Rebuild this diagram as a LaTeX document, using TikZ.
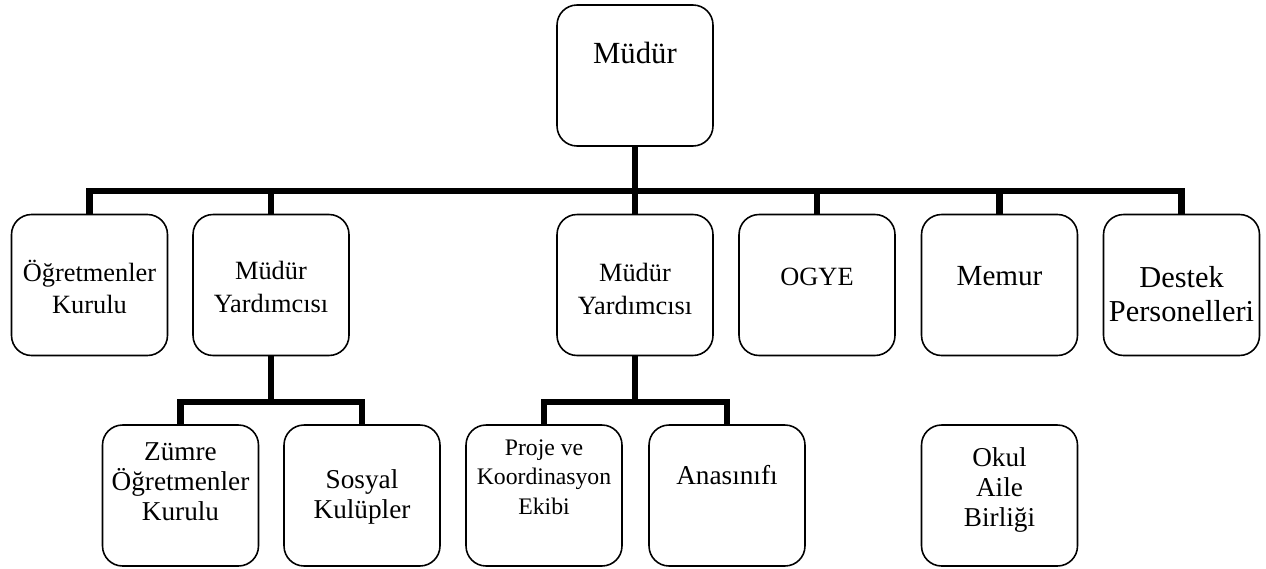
\documentclass[tikz,border=0pt]{standalone}
\usepackage{fontspec}
\setmainfont{Liberation Serif}
\begin{document}
\begin{tikzpicture}[x=0.02cm, y=-0.02cm,
    box/.style={draw, rounded corners=0.4cm, line width=0.9pt, minimum width=3.12cm, minimum height=2.82cm, inner sep=0pt},
    txt/.style={align=center, inner sep=0pt, font=\fontsize{15}{18.5}\selectfont},
    small/.style={font=\fontsize{15.5}{17}\selectfont},
    bar/.style={line width=3.6pt}]
      \useasboundingbox (0,0) rectangle (1266,568);

      \node[box] (mudur)  at (635,75.5) {};
      \node[box] (ogr)    at (89.5,285) {};
      \node[box] (my1)    at (271,285) {};
      \node[box] (my2)    at (635,285) {};
      \node[box] (ogye)   at (817,285) {};
      \node[box] (memur)  at (999.5,285) {};
      \node[box] (destek) at (1181.5,285) {};

      \node[box] (zumre)  at (180.5,495.5) {};
      \node[box] (sosyal) at (362,495.5) {};
      \node[box] (proje)  at (544,495.5) {};
      \node[box] (ana)    at (727,495.5) {};
      \node[box] (okul)   at (999.5,495.5) {};

      \node[txt, font=\fontsize{17.5}{21}\selectfont] (mudur-t) at (635,53) {Müdür};
      \node[txt] (ogr-t)    at (89.5,287) {Öğretmenler\\Kurulu};
      \node[txt] (my1-t)    at (271,287) {Müdür\\Yardımcısı};
      \node[txt] (my2-t)    at (635,289) {Müdür\\Yardımcısı};
      \node[txt] (ogye-t)   at (817,277) {OGYE};
      \node[txt, font=\fontsize{16.6}{19}\selectfont] (memur-t) at (999.5,276) {Memur};
      \node[txt, font=\fontsize{17.3}{19.4}\selectfont] (destek-t) at (1181.5,294) {Destek\\Personelleri};

      \node[txt, small] (zumre-t)  at (180.5,482) {Zümre\\Öğretmenler\\Kurulu};
      \node[txt, small] (sosyal-t) at (362,497) {Sosyal\\Kulüpler};
      \node[txt, font=\fontsize{13.5}{16.8}\selectfont] (proje-t) at (544,477) {Proje ve\\Koordinasyon\\Ekibi};
      \node[txt, small] (ana-t)    at (727,475) {Anasınıfı};
      \node[txt, small] (okul-t)   at (999.5,490) {Okul\\Aile\\Birliği};

      \coordinate (bus)  at (635,191);
      \coordinate (sub1) at (271,402);
      \coordinate (sub2) at (635,402);

      \draw[bar] (mudur.south) -- (my2.north);
      \draw[bar] (ogr.north) |- (bus) -| (destek.north);
      \foreach \n in {my1, ogye, memur}
        \draw[bar] (\n.north) -- (\n.north |- bus);

      \draw[bar] (my1.south) -- (sub1);
      \draw[bar] (zumre.north) |- (sub1) -| (sosyal.north);
      \draw[bar] (my2.south) -- (sub2);
      \draw[bar] (proje.north) |- (sub2) -| (ana.north);

    \end{tikzpicture}
\end{document}
